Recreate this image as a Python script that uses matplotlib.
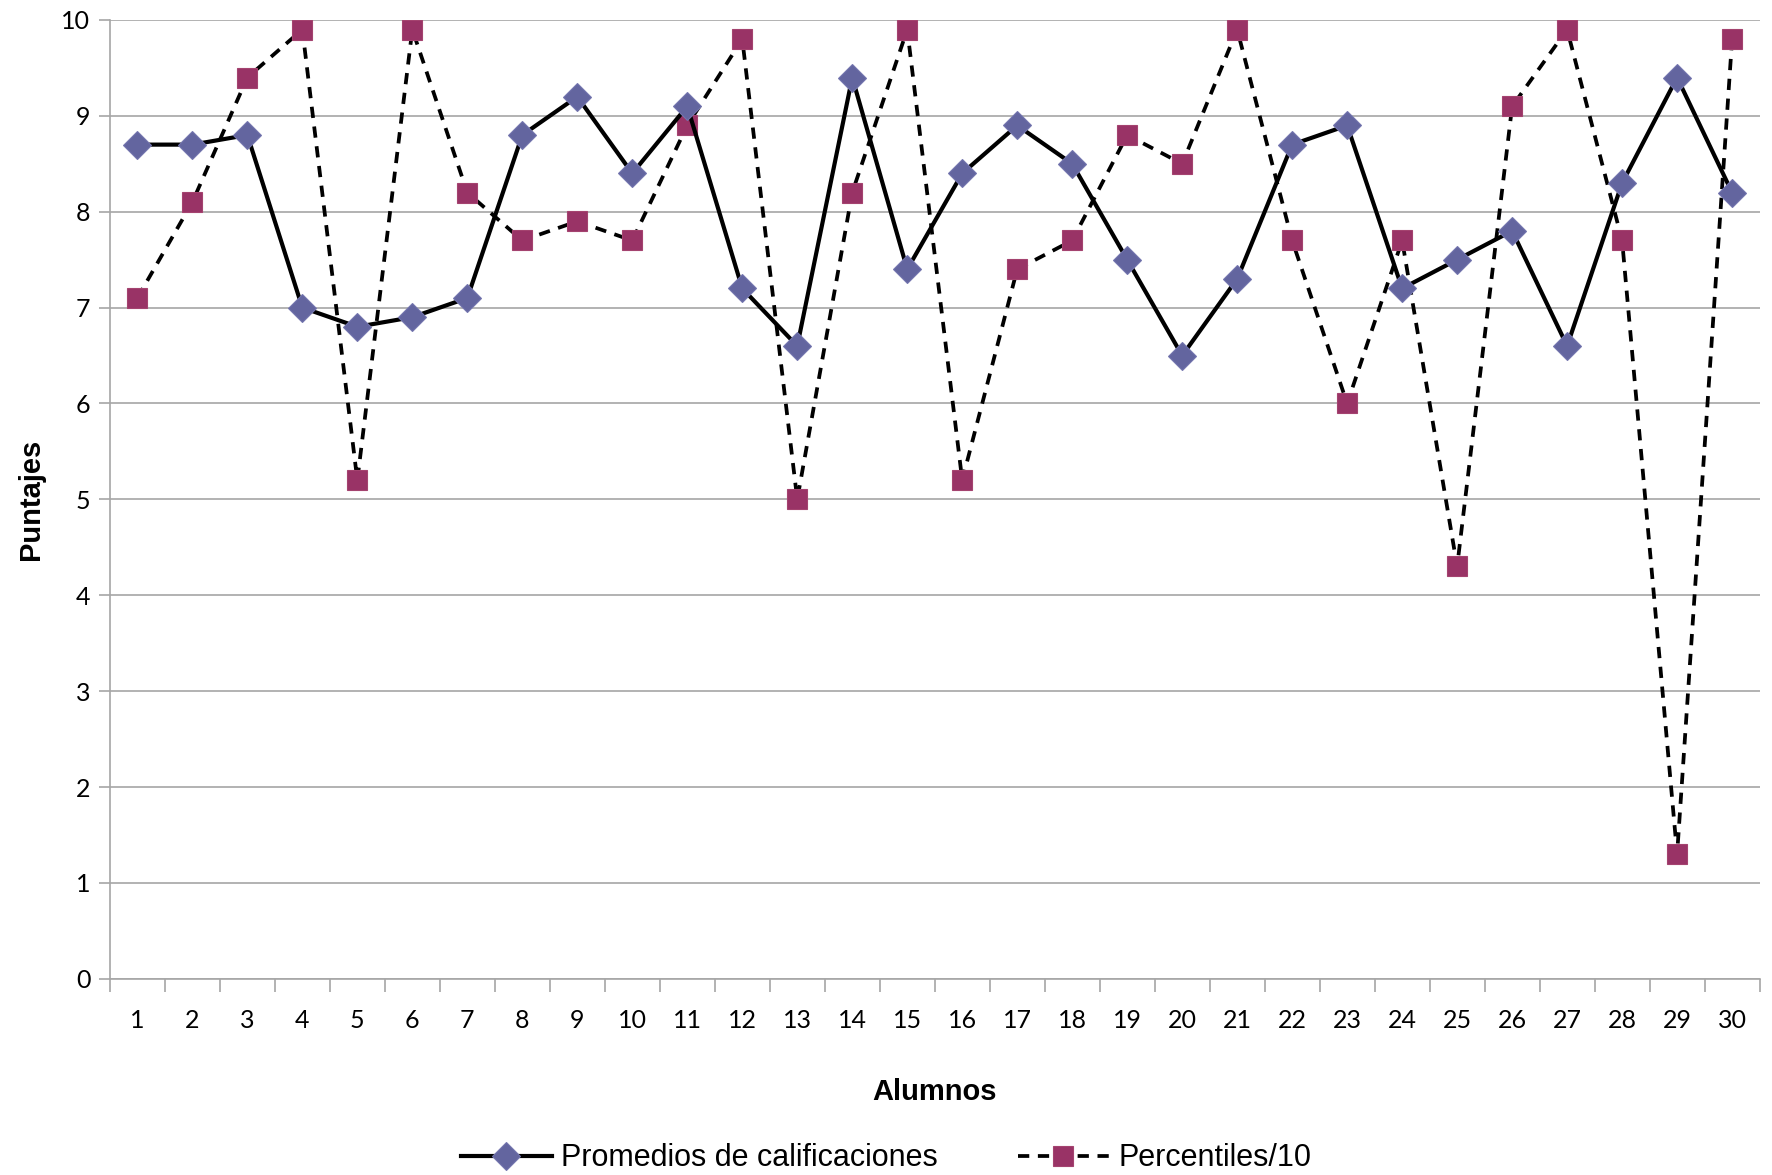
import matplotlib.pyplot as plt
import numpy as np

alumnos = list(range(1, 31))
promedios = [8.7, 8.7, 8.8, 7.0, 6.8, 6.9, 7.1, 8.8, 9.2, 8.4,
             9.1, 7.2, 6.6, 9.4, 7.4, 8.4, 8.9, 8.5, 7.5, 6.5,
             7.3, 8.7, 8.9, 7.2, 7.5, 7.8, 6.6, 8.3, 9.4, 8.2]
percentiles = [7.1, 8.1, 9.4, 9.9, 5.2, 9.9, 8.2, 7.7, 7.9, 7.7,
               8.9, 9.8, 5.0, 8.2, 9.9, 5.2, 7.4, 7.7, 8.8, 8.5,
               9.9, 7.7, 6.0, 7.7, 4.3, 9.1, 9.9, 7.7, 1.3, 9.8]

tick_font = 'Lato'
label_font = 'Liberation Sans'

fig = plt.figure(figsize=(17.72, 11.75), dpi=100)
ax = fig.add_axes([0.062, 0.167, 0.931, 0.816])

x = np.arange(len(alumnos))

ax.plot(x, promedios, color='black', linewidth=3.0, marker='D', markersize=14,
        markerfacecolor='#63659F', markeredgecolor='#7375AE', markeredgewidth=0.8,
        label='Promedios de calificaciones', zorder=4)
ax.plot(x, percentiles, color='black', linewidth=2.7, linestyle=(0, (3.0, 2.3)),
        marker='s', markersize=14, markerfacecolor='#993366',
        markeredgecolor='#A4436F', markeredgewidth=0.8,
        label='Percentiles/10', zorder=3)

ax.set_xlim(-0.5, len(alumnos) - 0.5)
ax.set_ylim(0, 10)
ax.set_yticks(range(0, 11))
ax.yaxis.grid(True, color='#A6A6A6', linewidth=1.2)
ax.set_axisbelow(True)

# category labels centred, tick marks between categories
ax.set_xticks(x)
ax.set_xticklabels([str(a) for a in alumnos], fontfamily=tick_font, fontsize=18)
ax.set_xticks(np.arange(-0.5, len(alumnos)), minor=True)
ax.tick_params(axis='x', which='major', length=0, pad=22)
ax.tick_params(axis='x', which='minor', length=9, width=1.2, color='#A6A6A6')
ax.tick_params(axis='y', length=8, width=1.2, color='#A6A6A6', pad=6)
for lab in ax.get_yticklabels():
    lab.set_fontfamily(tick_font)
    lab.set_fontsize(18)

for side in ['top', 'right']:
    ax.spines[side].set_visible(False)
ax.spines['left'].set_color('#A6A6A6')
ax.spines['bottom'].set_color('#A6A6A6')
ax.spines['left'].set_linewidth(1.2)
ax.spines['bottom'].set_linewidth(1.2)

ax.set_xlabel('Alumnos', fontfamily=label_font, fontweight='bold', fontsize=21, labelpad=33)
ax.set_ylabel('Puntajes', fontfamily=label_font, fontweight='bold', fontsize=21, labelpad=12)

fig.legend(loc='lower center', bbox_to_anchor=(0.5, -0.022), ncol=2, frameon=False,
           prop={'family': label_font, 'size': 22}, handlelength=3.0,
           columnspacing=2.6, handletextpad=0.3)

fig.savefig('out.png', dpi=100)
